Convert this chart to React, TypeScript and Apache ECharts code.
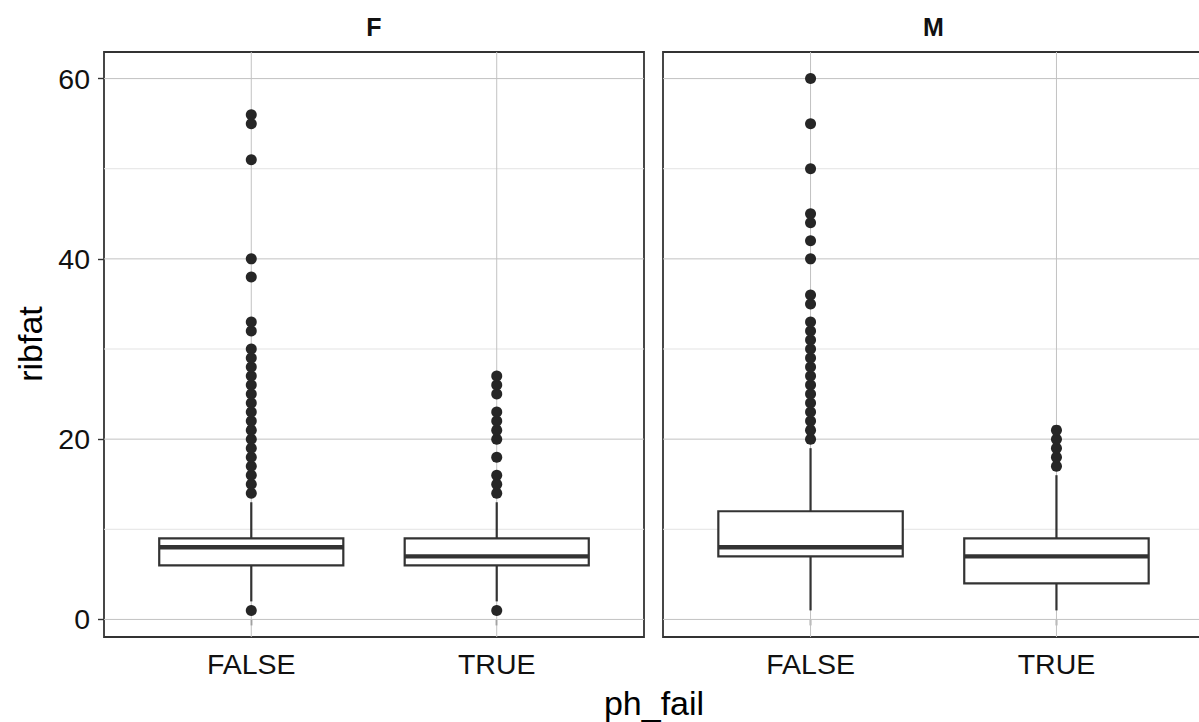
import React, { useEffect, useRef } from "react";
import * as echarts from "echarts";

const categories = ["FALSE", "TRUE"];
const panels = ["F", "M"];
const yTicks = [0, 20, 40, 60];
const yMinorTicks = [10, 30, 50];

// [lower whisker, Q1, median, Q3, upper whisker] per category
const boxF = [
  [2, 6, 8, 9, 13],
  [2, 6, 7, 9, 13],
];
const boxM = [
  [1, 7, 8, 12, 19],
  [1, 4, 7, 9, 16],
];

const outF_FALSE = [1, 14, 15, 16, 17, 18, 19, 20, 21, 22, 23, 24, 25, 26, 27, 28, 29, 30, 32, 33, 38, 40, 51, 55, 56];
const outF_TRUE = [1, 14, 15, 16, 18, 20, 21, 22, 23, 25, 26, 27];
const outM_FALSE = [20, 21, 22, 23, 24, 25, 26, 27, 28, 29, 30, 31, 32, 33, 35, 36, 40, 42, 44, 45, 50, 55, 60];
const outM_TRUE = [17, 18, 19, 20, 21];

const FONT = "'Liberation Sans', Arial, Helvetica, sans-serif";
const DARK = "#333333";

export default function App() {
  const ref = useRef<HTMLDivElement>(null);

  useEffect(() => {
    document.body.style.margin = "0";
    if (!ref.current) return;
    const chart = echarts.init(ref.current, undefined, { renderer: "svg" });

    const boxes = [boxF, boxM];
    const outs = [
      [outF_FALSE, outF_TRUE],
      [outM_FALSE, outM_TRUE],
    ];
    const grids = [
      { left: 104, top: 52, width: 540, height: 585 },
      { left: 663, top: 52, width: 541, height: 585 },
    ];

    const gridData: any[] = [];
    yTicks.forEach((v) => gridData.push([v, 0]));
    yMinorTicks.forEach((v) => gridData.push([v, 1]));
    categories.forEach((_, i) => gridData.push([i + 1, 2]));

    const series: any[] = [];
    panels.forEach((_, p) => {
      series.push({
        type: "custom",
        xAxisIndex: p,
        yAxisIndex: p,
        z: 1,
        silent: true,
        data: gridData,
        renderItem: (params: any, api: any) => {
          const v = api.value(0);
          const kind = api.value(1);
          const cs = params.coordSys;
          if (kind === 2) {
            const px = api.coord([v, 0])[0];
            return {
              type: "line",
              shape: { x1: px, y1: cs.y, x2: px, y2: cs.y + cs.height },
              style: { stroke: "#c2c2c2", lineWidth: 1 },
            };
          }
          const py = api.coord([1, v])[1];
          return {
            type: "line",
            shape: { x1: cs.x, y1: py, x2: cs.x + cs.width, y2: py },
            style: { stroke: kind === 0 ? "#c2c2c2" : "#e3e3e3", lineWidth: 1 },
          };
        },
      });
      series.push({
        type: "custom",
        xAxisIndex: p,
        yAxisIndex: p,
        z: 3,
        silent: true,
        data: boxes[p].map((b, i) => [i + 1, ...b]),
        renderItem: (params: any, api: any) => {
          const x = api.value(0);
          const lo = api.coord([x, api.value(1)]);
          const q1 = api.coord([x, api.value(2)]);
          const med = api.coord([x, api.value(3)]);
          const q3 = api.coord([x, api.value(4)]);
          const hi = api.coord([x, api.value(5)]);
          const left = api.coord([x - 0.375, 0])[0];
          const right = api.coord([x + 0.375, 0])[0];
          const st = { stroke: DARK, lineWidth: 2.2 };
          return {
            type: "group",
            children: [
              { type: "line", shape: { x1: lo[0], y1: lo[1], x2: q1[0], y2: q1[1] }, style: st },
              { type: "line", shape: { x1: q3[0], y1: q3[1], x2: hi[0], y2: hi[1] }, style: st },
              {
                type: "rect",
                shape: { x: left, y: q3[1], width: right - left, height: q1[1] - q3[1] },
                style: { fill: "#ffffff", stroke: DARK, lineWidth: 2.2 },
              },
              { type: "line", shape: { x1: left, y1: med[1], x2: right, y2: med[1] }, style: { stroke: DARK, lineWidth: 4.4 } },
            ],
          };
        },
      });
      series.push({
        type: "scatter",
        xAxisIndex: p,
        yAxisIndex: p,
        z: 4,
        silent: true,
        clip: false,
        symbol: "circle",
        symbolSize: 11,
        itemStyle: { color: "#262626", opacity: 1 },
        data: outs[p].flatMap((arr, i) => arr.map((v) => [i + 1, v])),
      });
    });

    const option: any = {
      animation: false,
      backgroundColor: "#ffffff",
      grid: grids.map((g) => ({
        ...g,
        show: true,
        borderColor: DARK,
        borderWidth: 1.8,
        backgroundColor: "transparent",
      })),
      xAxis: panels.map((_, p) => ({
        type: "value",
        gridIndex: p,
        min: 0.4,
        max: 2.6,
        axisLine: { show: false },
        splitLine: { show: false },
        axisTick: { show: true, customValues: [1, 2], length: 6, lineStyle: { color: DARK, width: 1.4 } },
        axisLabel: {
          show: true,
          customValues: [1, 2],
          formatter: (v: number) => categories[Math.round(v) - 1] ?? "",
          color: "#111111",
          fontSize: 28.5,
          fontFamily: FONT,
          margin: 12,
        },
      })),
      yAxis: panels.map((_, p) => ({
        type: "value",
        gridIndex: p,
        min: -1.95,
        max: 62.95,
        axisLine: { show: false },
        splitLine: { show: false },
        axisTick: {
          show: p === 0,
          customValues: yTicks,
          length: 6,
          lineStyle: { color: DARK, width: 1.4 },
        },
        axisLabel: {
          show: p === 0,
          customValues: yTicks,
          color: "#111111",
          fontSize: 28.5,
          fontFamily: FONT,
          margin: 14,
        },
      })),
      series,
      graphic: [
        {
          type: "text",
          x: 374,
          y: 27,
          style: { text: panels[0], font: `bold 25px ${FONT}`, fill: "#111111", align: "center", verticalAlign: "middle" },
        },
        {
          type: "text",
          x: 933.5,
          y: 27,
          style: { text: panels[1], font: `bold 25px ${FONT}`, fill: "#111111", align: "center", verticalAlign: "middle" },
        },
        {
          type: "text",
          x: 654,
          y: 703,
          style: { text: "ph_fail", font: `34px ${FONT}`, fill: "#000000", align: "center", verticalAlign: "middle" },
        },
        {
          type: "text",
          x: 30,
          y: 344,
          rotation: Math.PI / 2,
          style: { text: "ribfat", font: `34px ${FONT}`, fill: "#000000", align: "center", verticalAlign: "middle" },
        },
      ],
    };

    chart.setOption(option);
    return () => chart.dispose();
  }, []);

  return (
    <div style={{ position: "absolute", left: 0, top: 0, width: 1199, height: 722, overflow: "hidden" }}>
      <div ref={ref} style={{ width: 1220, height: 722 }} />
    </div>
  );
}
